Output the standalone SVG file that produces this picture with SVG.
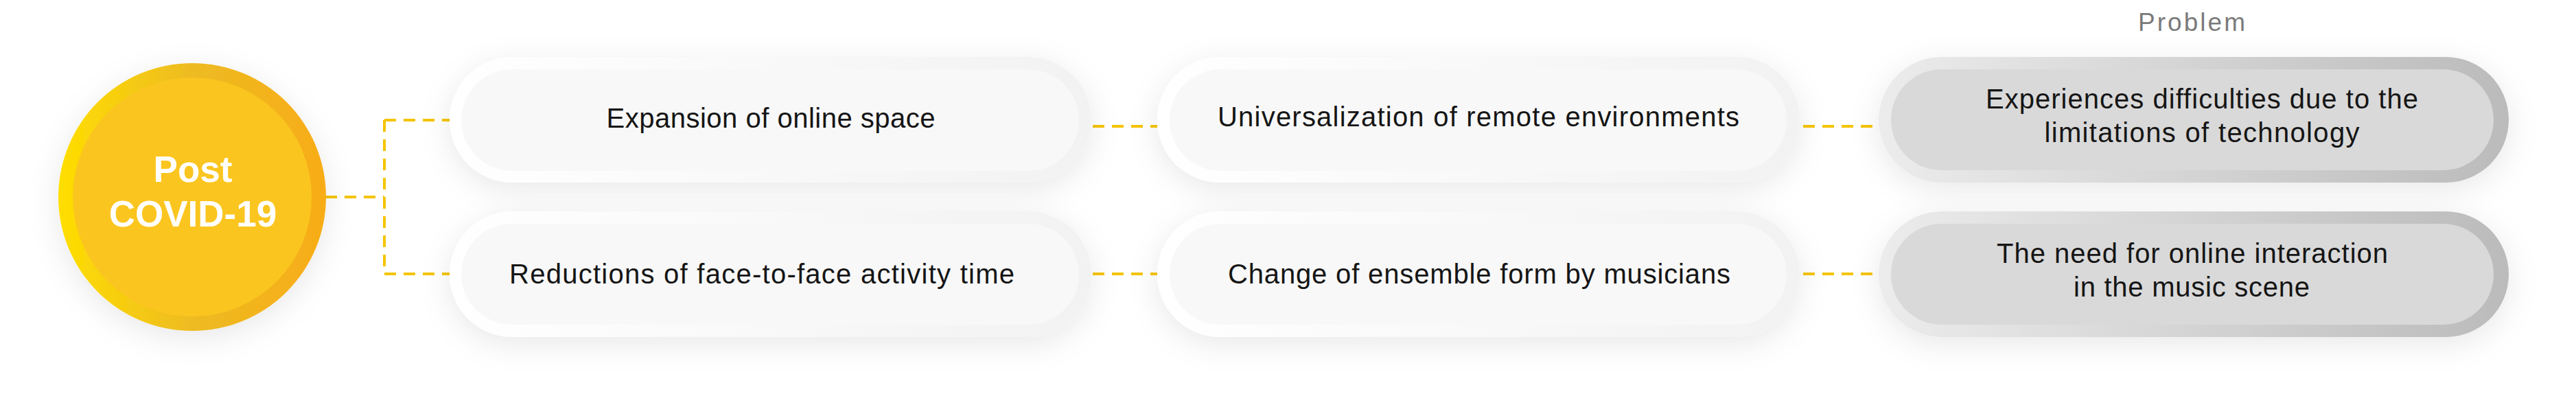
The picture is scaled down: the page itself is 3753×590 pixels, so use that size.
<svg xmlns="http://www.w3.org/2000/svg" width="3753" height="590" viewBox="0 0 3753 590">
<defs>
<style>
.t{font-family:"Liberation Sans",Arial,sans-serif;font-size:40px;fill:#151515;text-anchor:middle}
.c{font-family:"Liberation Sans",Arial,sans-serif;font-size:53px;font-weight:bold;fill:#ffffff;text-anchor:middle}
.p{font-family:"Liberation Sans",Arial,sans-serif;font-size:37px;fill:#7a7a7a;text-anchor:middle}
.dash{fill:none;stroke:#F5C400;stroke-width:4;stroke-dasharray:17 11}
.wo{fill:url(#gW)}
.wi{fill:#f8f8f8}
.go{fill:url(#gG)}
.gi{fill:#d9d9d9}
</style>
<linearGradient id="gY" x1="0" y1="0" x2="1" y2="0">
<stop offset="0" stop-color="#FFDE00"/>
<stop offset="0.5" stop-color="#EDBB22"/>
<stop offset="1" stop-color="#F8AC18"/>
</linearGradient>
<linearGradient id="gW" x1="0" y1="0" x2="1" y2="0">
<stop offset="0" stop-color="#ffffff"/>
<stop offset="1" stop-color="#f2f2f2"/>
</linearGradient>
<linearGradient id="gG" x1="0" y1="0" x2="1" y2="0">
<stop offset="0" stop-color="#ececec"/>
<stop offset="1" stop-color="#bbbbbb"/>
</linearGradient>
<filter id="sh" x="-20%" y="-60%" width="140%" height="220%">
<feDropShadow dx="0" dy="10" stdDeviation="22" flood-color="#000" flood-opacity="0.09"/>
</filter>
</defs>
<rect width="3753" height="590" fill="#ffffff"/>

<g id="connectors">
<path class="dash" d="M474 287H560M560 175V399M560 175H655M560 399H655"/>
<path class="dash" d="M1592 184H1686M1592 399H1686"/>
<path class="dash" d="M2627 184H2737M2627 399H2737"/>
</g>

<g id="post-covid">
<circle cx="280" cy="287" r="195" fill="url(#gY)" filter="url(#sh)"/>
<circle cx="280" cy="287" r="174" fill="#FBC51F"/>
<text class="c" x="281" y="265">Post</text>
<text class="c" x="281" y="330">COVID-19</text>
</g>

<g id="expansion">
<rect class="wo" x="655" y="83" width="935" height="183" rx="91.5" filter="url(#sh)"/>
<rect class="wi" x="672" y="101" width="900" height="148" rx="74"/>
<text class="t" x="1123" y="186" textLength="479">Expansion of online space</text>
</g>

<g id="reductions">
<rect class="wo" x="655" y="308" width="935" height="183" rx="91.5" filter="url(#sh)"/>
<rect class="wi" x="672" y="326" width="900" height="147" rx="73.5"/>
<text class="t" x="1110" y="413" textLength="736">Reductions of face-to-face activity time</text>
</g>

<g id="universalization">
<rect class="wo" x="1686" y="83" width="936" height="183" rx="91.5" filter="url(#sh)"/>
<rect class="wi" x="1704" y="101" width="899" height="148" rx="74"/>
<text class="t" x="2154" y="184" textLength="760">Universalization of remote environments</text>
</g>

<g id="ensemble">
<rect class="wo" x="1686" y="308" width="936" height="183" rx="91.5" filter="url(#sh)"/>
<rect class="wi" x="1704" y="326" width="899" height="147" rx="73.5"/>
<text class="t" x="2155" y="413" textLength="732">Change of ensemble form by musicians</text>
</g>

<text id="problem-label" class="p" x="3193" y="45" textLength="156">Problem</text>

<g id="difficulties">
<rect class="go" x="2737" y="83" width="918" height="183" rx="91.5" filter="url(#sh)"/>
<rect class="gi" x="2755" y="101" width="878" height="147" rx="73.5"/>
<text class="t" x="3208" y="158" textLength="630">Experiences difficulties due to the</text>
<text class="t" x="3208" y="207" textLength="459">limitations of technology</text>
</g>

<g id="interaction">
<rect class="go" x="2737" y="308" width="918" height="183" rx="91.5" filter="url(#sh)"/>
<rect class="gi" x="2755" y="326" width="878" height="147" rx="73.5"/>
<text class="t" x="3194" y="383" textLength="570">The need for online interaction</text>
<text class="t" x="3193" y="432" textLength="344">in the music scene</text>
</g>
</svg>
